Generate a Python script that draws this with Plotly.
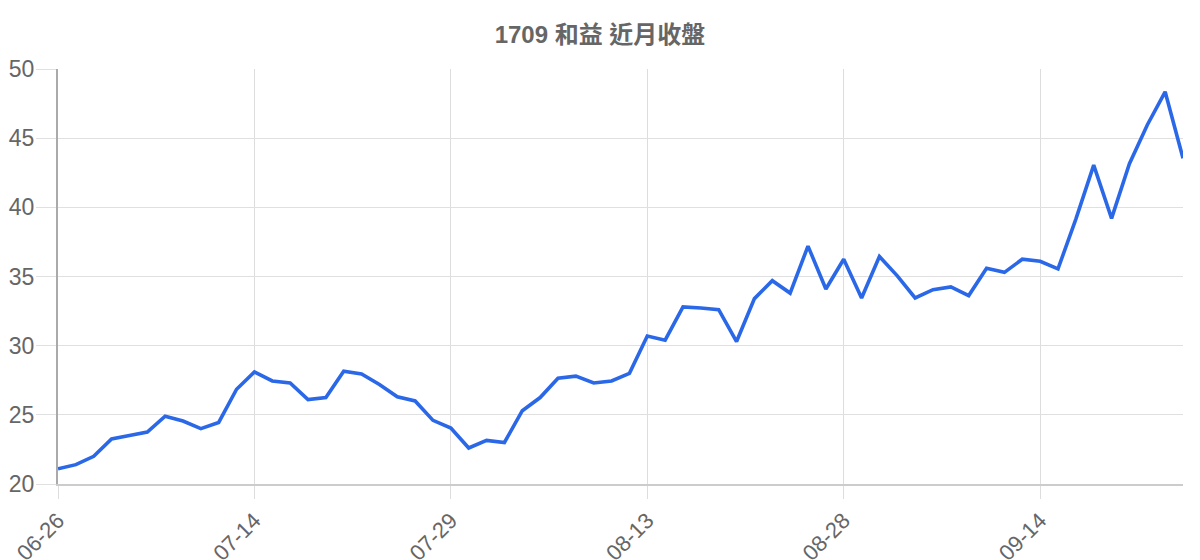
import plotly.graph_objects as go

dates = [
    "06-26", "06-27", "06-28", "06-29", "06-30", "07-03", "07-04", "07-05", "07-06", "07-10", "07-12",
    "07-14", "07-15", "07-16", "07-17", "07-18", "07-19", "07-20", "07-21", "07-24", "07-26", "07-27",
    "07-29", "07-30", "07-31", "08-01", "08-02", "08-03", "08-04", "08-07", "08-08", "08-09", "08-10",
    "08-13", "08-14", "08-15", "08-16", "08-17", "08-18", "08-21", "08-22", "08-23", "08-24", "08-25",
    "08-28", "08-29", "08-30", "08-31", "09-01", "09-04", "09-05", "09-06", "09-07", "09-08", "09-11",
    "09-14", "09-15", "09-18", "09-19", "09-20", "09-21", "09-22", "09-25", "09-26",
]

close = [
    21.1, 21.4, 22.0, 23.25, 23.5, 23.75, 24.9, 24.55, 24.0, 24.45, 26.85,
    28.1, 27.45, 27.3, 26.1, 26.25, 28.15, 27.95, 27.2, 26.3, 26.0, 24.6,
    24.05, 22.6, 23.15, 23.0, 25.3, 26.25, 27.65, 27.8, 27.3, 27.45, 28.0,
    30.7, 30.4, 32.8, 32.72, 32.6, 30.3, 33.4, 34.7, 33.8, 37.2, 34.1,
    36.25, 33.45, 36.45, 35.05, 33.45, 34.05, 34.25, 33.62, 35.6, 35.3, 36.25,
    36.1, 35.55, 39.15, 43.05, 39.2, 43.15, 45.95, 48.35, 43.55,
]

tick_labels = ["06-26", "07-14", "07-29", "08-13", "08-28", "09-14"]
y_ticks = [20, 25, 30, 35, 40, 45, 50]

title_text = "1709 和益 近月收盤"

FONT = "Liberation Sans, Arial, Noto Sans CJK TC, sans-serif"
W, H = 1192, 552

fig = go.Figure()
fig.add_trace(go.Scatter(
    x=dates,
    y=close,
    mode="lines",
    line=dict(color="#2a68e8", width=3.6),
    hoverinfo="x+y",
))

fig.update_layout(
    width=W,
    height=H,
    margin=dict(l=50, r=17, t=61, b=76),
    paper_bgcolor="white",
    plot_bgcolor="white",
    font=dict(family=FONT, color="#666666"),
    title=dict(
        text="<b>" + title_text + "</b>",
        x=(600 - 8) / W,
        xanchor="center",
        y=1 - 27 / H,
        yanchor="middle",
        font=dict(size=24, color="#666666", family=FONT),
    ),
    showlegend=False,
)

fig.update_xaxes(
    type="category",
    range=[0, len(dates) - 1],
    tickmode="array",
    tickvals=tick_labels,
    ticktext=tick_labels,
    tickangle=-45,
    tickfont=dict(size=22, color="#666666"),
    showgrid=True,
    gridcolor="#dddddd",
    gridwidth=1,
    ticks="outside",
    ticklen=13,
    tickcolor="#dddddd",
    showline=True,
    linecolor="#cccccc",
    linewidth=2,
    zeroline=False,
    automargin=False,
)

fig.update_yaxes(
    range=[20, 50],
    tickmode="array",
    tickvals=y_ticks,
    tickfont=dict(size=23, color="#666666"),
    showgrid=True,
    gridcolor="#e0e0e0",
    gridwidth=1,
    ticks="outside",
    ticklen=20,
    tickcolor="#e0e0e0",
    ticklabelstandoff=-3,
    showline=True,
    linecolor="#aaaaaa",
    linewidth=2,
    zeroline=False,
    automargin=False,
)

fig.write_html("out.html")
